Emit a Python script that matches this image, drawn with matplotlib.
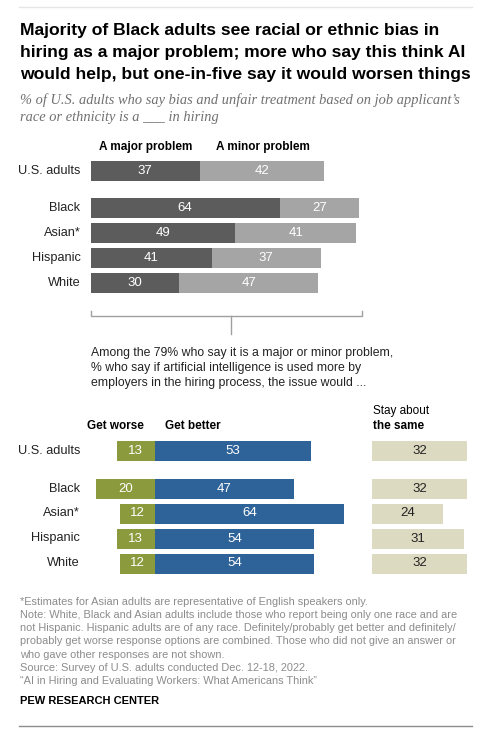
import matplotlib.pyplot as plt

# top chart: is racial/ethnic bias in hiring a problem
groups = ['U.S. adults', 'Black', 'Asian*', 'Hispanic', 'White']
major = [37, 64, 49, 41, 30]
minor = [42, 27, 41, 37, 47]

# bottom chart: if AI used more, the issue would ...
worse = [13, 20, 12, 13, 12]
better = [53, 47, 64, 54, 54]
same = [32, 32, 24, 31, 32]

rows = [0, 1.5, 2.5, 3.5, 4.5]

W, H = 486, 734
DARK = '#5c5c5c'
LIGHT = '#a5a5a5'
GREEN = '#8a9a3c'
BLUE = '#2e6399'
BEIGE = '#dcdac0'
FONT = 'Liberation Sans'

plt.rcParams['font.family'] = [FONT, 'DejaVu Sans']

fig = plt.figure(figsize=(W / 100, H / 100), dpi=100)


def add_px_axes(x0, y0, x1, y1):
    """axes placed by pixel box (top-left origin)"""
    ax = fig.add_axes([x0 / W, 1 - y1 / H, (x1 - x0) / W, (y1 - y0) / H])
    ax.set_axis_off()
    return ax


# overlay for text and rules, in pixel coordinates
ov = add_px_axes(0, 0, W, H)
ov.set_xlim(0, W)
ov.set_ylim(H, 0)

ov.plot([19, 472], [7, 7], color='#e6e6e6', lw=1)
ov.plot([19, 472], [725.5, 725.5], color='#8c8c8c', lw=1)

title_lines = ['Majority of Black adults see racial or ethnic bias in',
               'hiring as a major problem; more who say this think AI',
               'would help, but one-in-five say it would worsen things']
for i, line in enumerate(title_lines):
    ov.text(20, 30 + 22 * i, line, fontsize=12.6, fontweight='bold',
            va='center', ha='left', color='#000000')

subtitle_lines = ['% of U.S. adults who say bias and unfair treatment based on job applicant\u2019s',
                  'race or ethnicity is a ___ in hiring']
for i, line in enumerate(subtitle_lines):
    ov.text(20, 100 + 17 * i, line, fontsize=10.4, style='italic',
            family='Liberation Serif', color='#707070', va='center', ha='left')

ov.text(99, 147, 'A major problem', fontsize=8.5, fontweight='bold', va='center')
ov.text(216, 147, 'A minor problem', fontsize=8.5, fontweight='bold', va='center')

# bracket linking the two charts
ov.plot([90.5, 90.5, 362, 362], [310.5, 315.5, 315.5, 310.5], color='#a0a0a0', lw=1)
ov.plot([231, 231], [315.5, 333.5], color='#a0a0a0', lw=1)

among_lines = ['Among the 79% who say it is a major or minor problem,',
               '% who say if artificial intelligence is used more by',
               'employers in the hiring process, the issue would ...']
for i, line in enumerate(among_lines):
    ov.text(91, 353 + 15.2 * i, line, fontsize=8.8, va='center', ha='left',
            color='#222222')

ov.text(87, 426, 'Get worse', fontsize=8.5, fontweight='bold', va='center')
ov.text(165, 426, 'Get better', fontsize=8.5, fontweight='bold', va='center')
ov.text(373, 411, 'Stay about', fontsize=8.5, va='center')
ov.text(373, 426, 'the same', fontsize=8.5, fontweight='bold', va='center')

note_lines = ['*Estimates for Asian adults are representative of English speakers only.',
              'Note: White, Black and Asian adults include those who report being only one race and are',
              'not Hispanic. Hispanic adults are of any race. Definitely/probably get better and definitely/',
              'probably get worse response options are combined. Those who did not give an answer or',
              'who gave other responses are not shown.',
              'Source: Survey of U.S. adults conducted Dec. 12-18, 2022.',
              '\u201cAI in Hiring and Evaluating Workers: What Americans Think\u201d']
for i, line in enumerate(note_lines):
    ov.text(20, 601.7 + 13.2 * i, line, fontsize=7.9, color='#8c8c8c',
            va='center', ha='left')
ov.text(20, 701, 'PEW RESEARCH CENTER', fontsize=8, fontweight='bold',
        va='center', ha='left')

# top chart bars: 0 at x=90.5, 2.955 px per point, 24.8 px per row
ax1 = add_px_axes(90.5, 171 - 0.5 * 24.8, 90.5 + 100 * 2.955, 171 + 5 * 24.8)
ax1.set_xlim(0, 100)
ax1.set_ylim(5, -0.5)
ax1.barh(rows, major, height=0.8, color=DARK, linewidth=0)
ax1.barh(rows, minor, left=major, height=0.8, color=LIGHT, linewidth=0)
for r, a, b, g in zip(rows, major, minor, groups):
    ax1.text(a / 2, r, str(a), color='white', fontsize=9.5, ha='center', va='center')
    ax1.text(a + b / 2, r, str(b), color='white', fontsize=9.5, ha='center', va='center')
    ax1.text(-3.4, r, g, fontsize=9.2, ha='right', va='center', color='#222222')

# bottom chart bars: 0 at x=155, 2.95 px per point, 25 px per row
ax2_left = 155 - 25 * 2.95
ax2 = add_px_axes(ax2_left, 451 - 0.5 * 25, 155 + 75 * 2.95, 451 + 5 * 25)
ax2.set_xlim(-25, 75)
ax2.set_ylim(5, -0.5)
ax2.barh(rows, [-w for w in worse], height=0.8, color=GREEN, linewidth=0)
ax2.barh(rows, better, height=0.8, color=BLUE, linewidth=0)
label_x = -25 + (80 - ax2_left) / 2.95
for r, w, b, g in zip(rows, worse, better, groups):
    ax2.text(-w / 2, r, str(w), color='white', fontsize=9.5, ha='center', va='center')
    ax2.text(b / 2, r, str(b), color='white', fontsize=9.5, ha='center', va='center')
    ax2.text(label_x, r, g, fontsize=9.2, ha='right', va='center', color='#222222')

ax3 = add_px_axes(372, 451 - 0.5 * 25, 372 + 40 * 2.97, 451 + 5 * 25)
ax3.set_xlim(0, 40)
ax3.set_ylim(5, -0.5)
ax3.barh(rows, same, height=0.8, color=BEIGE, linewidth=0)
for r, s in zip(rows, same):
    ax3.text(s / 2, r, str(s), color='#222222', fontsize=9.5, ha='center', va='center')

fig.savefig('out.png', dpi=100, facecolor='white')
